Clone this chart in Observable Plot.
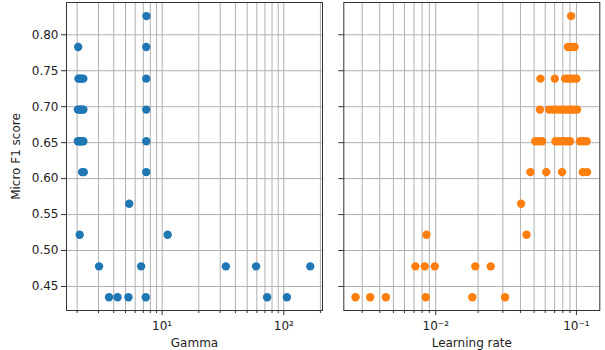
<!DOCTYPE html>
<html><head><meta charset="utf-8">
<script src="https://cdn.jsdelivr.net/npm/d3@7"></script>
<script src="https://cdn.jsdelivr.net/npm/@observablehq/plot@0.6"></script>
<style>
body{margin:0;background:#fff;}
#wrap{position:relative;width:605px;height:350px;font-family:"DejaVu Sans",sans-serif;}
#left,#right{position:absolute;top:0;}
#left{left:0;} #right{left:330px;}
</style></head><body>
<div id="wrap"><div id="left"></div><div id="right"></div></div>
<script>
// Micro F1 score levels (y) and Gamma / Learning-rate samples (x)
const gammaX = [7.43,
  2.04, 7.4,
  2.05, 2.1, 2.17, 2.25, 7.4,
  2.03, 2.08, 2.13, 2.19, 2.25, 7.4,
  2.03, 2.08, 2.13, 2.19, 2.25, 7.4,
  2.2, 2.27, 7.4,
  5.36,
  2.1, 11.1,
  3.03, 6.72, 33.4, 59.2, 165,
  3.66, 4.3, 5.28, 7.33, 72.9, 106];
const gammaY = [0.826,
  0.783, 0.783,
  0.739, 0.739, 0.739, 0.739, 0.739,
  0.696, 0.696, 0.696, 0.696, 0.696, 0.696,
  0.652, 0.652, 0.652, 0.652, 0.652, 0.652,
  0.609, 0.609, 0.609,
  0.565,
  0.522, 0.522,
  0.478, 0.478, 0.478, 0.478, 0.478,
  0.435, 0.435, 0.435, 0.435, 0.435, 0.435];
const lrX = [0.0916,
  0.087, 0.092, 0.097,
  0.0555, 0.0702, 0.083, 0.087, 0.091, 0.095, 0.1,
  0.055, 0.064, 0.068, 0.072, 0.076, 0.08, 0.084, 0.088, 0.092, 0.096, 0.101,
  0.051, 0.054, 0.057, 0.071, 0.075, 0.079, 0.083, 0.087, 0.09, 0.106, 0.112, 0.118,
  0.0471, 0.061, 0.079, 0.111, 0.119,
  0.0404,
  0.00859, 0.0442,
  0.00717, 0.00835, 0.00984, 0.0191, 0.0246,
  0.00269, 0.00342, 0.00442, 0.00849, 0.0182, 0.0311];
const lrY = [0.826,
  0.783, 0.783, 0.783,
  0.739, 0.739, 0.739, 0.739, 0.739, 0.739, 0.739,
  0.696, 0.696, 0.696, 0.696, 0.696, 0.696, 0.696, 0.696, 0.696, 0.696, 0.696,
  0.652, 0.652, 0.652, 0.652, 0.652, 0.652, 0.652, 0.652, 0.652, 0.652, 0.652, 0.652,
  0.609, 0.609, 0.609, 0.609, 0.609,
  0.565,
  0.522, 0.522,
  0.478, 0.478, 0.478, 0.478, 0.478,
  0.435, 0.435, 0.435, 0.435, 0.435, 0.435];
const yTicks = [0.45, 0.50, 0.55, 0.60, 0.65, 0.70, 0.75, 0.80];
const gammaMajor = [10, 100];
const gammaMinor = [2,3,4,5,6,7,8,9,20,30,40,50,60,70,80,90,200];
const lrMajor = [0.01, 0.1];
const lrMinor = [0.003,0.004,0.005,0.006,0.007,0.008,0.009,0.02,0.03,0.04,0.05,0.06,0.07,0.08,0.09];
const supLabels = {10:"10¹", 100:"10²", 0.01:"10⁻²", 0.1:"10⁻¹"};

const gammaData = gammaX.map((x,i)=>({x, y:gammaY[i]}));
const lrData = lrX.map((x,i)=>({x, y:lrY[i]}));
const yDomain = [0.4166, 0.8449];
const gridStyle = {stroke:"#b0b0b0", strokeWidth:1, strokeOpacity:1};

function panel({data, color, domain, major, minor, label, width, marginLeft, marginRight, showY}) {
  return Plot.plot({
    width, height:350, marginTop:2, marginBottom:40, marginLeft, marginRight,
    style:{fontFamily:"DejaVu Sans, sans-serif", fontSize:"12px", color:"#222", background:"transparent"},
    x:{type:"log", domain},
    y:{domain:yDomain},
    marks:[
      Plot.ruleX(major.concat(minor), gridStyle),
      Plot.ruleY(yTicks, gridStyle),
      Plot.axisX(minor, {tickSize:3, tickFormat:()=>"", stroke:"#333", label:null}),
      Plot.axisX(major, {tickSize:5, tickPadding:6, tickFormat:d=>supLabels[d], stroke:"#333",
        fontSize:12, label, labelAnchor:"center", labelArrow:"none", labelOffset:36}),
      showY
        ? Plot.axisY(yTicks, {tickSize:5, tickPadding:3, tickFormat:d3.format(".2f"), stroke:"#333",
            fontSize:12, label:"Micro F1 score", labelAnchor:"center", labelArrow:"none", labelOffset:55})
        : Plot.axisY(yTicks, {tickSize:5, tickFormat:()=>"", stroke:"#333", label:null}),
      Plot.dot(data, {x:"x", y:"y", r:4.2, fill:color, stroke:null}),
      Plot.frame({stroke:"#333", strokeWidth:1})
    ]
  });
}

document.getElementById("left").append(panel({data:gammaData, color:"#1f77b4", domain:[1.636, 208],
  major:gammaMajor, minor:gammaMinor, label:"Gamma", width:330, marginLeft:66, marginRight:8, showY:true}));
document.getElementById("right").append(panel({data:lrData, color:"#ff7f0e", domain:[0.00222, 0.1466],
  major:lrMajor, minor:lrMinor, label:"Learning rate", width:275, marginLeft:13.3, marginRight:5.7, showY:false}));
</script></body></html>
